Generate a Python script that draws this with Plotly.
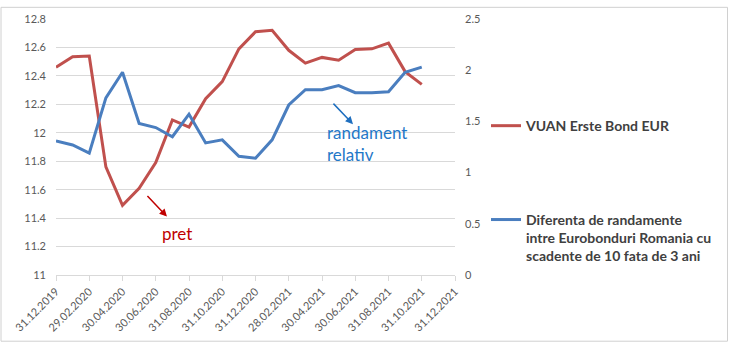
import plotly.graph_objects as go

dates = ["31.12.2019", "31.01.2020", "29.02.2020", "31.03.2020", "30.04.2020", "31.05.2020",
         "30.06.2020", "31.07.2020", "31.08.2020", "30.09.2020", "31.10.2020", "30.11.2020",
         "31.12.2020", "31.01.2021", "28.02.2021", "31.03.2021", "30.04.2021", "31.05.2021",
         "30.06.2021", "31.07.2021", "31.08.2021", "30.09.2021", "31.10.2021", "30.11.2021",
         "31.12.2021"]

vuan_price = [12.46, 12.535, 12.54, 11.76, 11.49, 11.61, 11.79, 12.09, 12.04, 12.24, 12.36, 12.59,
              12.71, 12.72, 12.58, 12.49, 12.53, 12.51, 12.585, 12.59, 12.63, 12.43, 12.34]

yield_spread = [1.31, 1.27, 1.19, 1.73, 1.98, 1.48, 1.44, 1.35, 1.57, 1.29, 1.32, 1.16,
                1.14, 1.32, 1.66, 1.81, 1.81, 1.85, 1.78, 1.78, 1.79, 1.98, 2.03]

name_red = "VUAN Erste Bond EUR"
name_blue = "Diferenta de randamente<br>intre Eurobonduri Romania cu<br>scadente de 10 fata de 3 ani"

RED = "#C0504D"
BLUE = "#4A7EBF"
FONT = "Lato"
TICKC = "#595959"
GRID = "#D9D9D9"

W, H = 729, 346
L, R, T, B = 56, 455, 13, 276  # plot area in px


def px(x):
    return (x - L) / (R - L)


def py(y):
    return (B - y) / (B - T)


fig = go.Figure()
# invisible trace to register all category positions on the axis
fig.add_trace(go.Scatter(x=dates, y=[None] * len(dates), showlegend=False,
                         hoverinfo="skip", mode="lines"))
fig.add_trace(go.Scatter(x=dates[:len(vuan_price)], y=vuan_price, name=name_red, mode="lines",
                         line=dict(color=RED, width=3), legend="legend"))
fig.add_trace(go.Scatter(x=dates[:len(yield_spread)], y=yield_spread, name=name_blue, mode="lines",
                         line=dict(color=BLUE, width=3), yaxis="y2", legend="legend2"))

LEGFONT = dict(family=FONT, size=14, color="#404040", weight="bold")

fig.update_layout(
    width=W, height=H,
    margin=dict(l=L, r=W - R, t=T, b=H - B, pad=0),
    paper_bgcolor="white", plot_bgcolor="white",
    font=dict(family=FONT, size=11, color=TICKC),
    xaxis=dict(type="category", categoryorder="array", categoryarray=dates,
               range=[0, len(dates) - 1], tickmode="linear", tick0=0, dtick=2,
               tickangle=-45, showgrid=False, showline=True, linecolor=GRID, linewidth=1,
               ticks="outside", ticklen=5, tickcolor=GRID, zeroline=False,
               tickfont=dict(family=FONT, size=11, color=TICKC)),
    yaxis=dict(range=[11, 12.8], dtick=0.2, tick0=11, showgrid=True, gridcolor=GRID,
               gridwidth=1, zeroline=False, showline=False, ticks="",
               ticklabelstandoff=9, tickfont=dict(family=FONT, size=11, color=TICKC)),
    yaxis2=dict(range=[0, 2.5], dtick=0.5, tick0=0, overlaying="y", side="right",
                showgrid=False, zeroline=False, showline=False, ticks="",
                ticklabelstandoff=9, tickfont=dict(family=FONT, size=11, color=TICKC)),
    legend=dict(x=px(486), y=py(123), xanchor="left", yanchor="middle",
                font=LEGFONT, bgcolor="rgba(0,0,0,0)", itemwidth=30),
    legend2=dict(x=px(486), y=py(203), xanchor="left", yanchor="top", valign="top",
                 font=LEGFONT, bgcolor="rgba(0,0,0,0)", itemwidth=30),
    showlegend=True,
)

annotations = [
    dict(x=px(167), y=py(216), xref="paper", yref="paper", text="", showarrow=True,
         ax=-21, ay=-22, axref="pixel", ayref="pixel", arrowhead=2, arrowsize=1,
         arrowwidth=1.5, arrowcolor="#C00000"),
    dict(x=px(353), y=py(121), xref="paper", yref="paper", text="", showarrow=True,
         ax=-21, ay=-22, axref="pixel", ayref="pixel", arrowhead=2, arrowsize=1,
         arrowwidth=1.5, arrowcolor="#1F6FBF"),
    dict(x=px(177), y=py(233), xref="paper", yref="paper", text="pret", showarrow=False,
         xanchor="center", yanchor="middle",
         font=dict(family=FONT, size=17, color="#C00000")),
    dict(x=px(325), y=py(141), xref="paper", yref="paper", text="randament<br>relativ",
         showarrow=False, xanchor="left", yanchor="middle", align="left",
         font=dict(family=FONT, size=17, color="#1F78C8")),
]
fig.update_layout(annotations=annotations)

fig.add_shape(type="rect", xref="paper", yref="paper",
              x0=px(1), x1=px(727.5), y0=py(344), y1=py(1),
              line=dict(color="#D0D0D0", width=1), fillcolor="rgba(0,0,0,0)", layer="below")

fig.write_html("out.html")
